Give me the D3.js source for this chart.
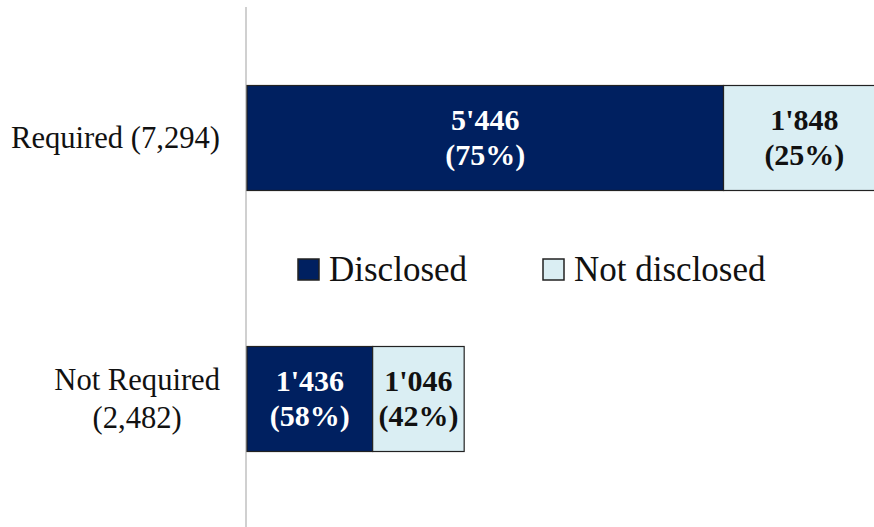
<!DOCTYPE html>
<html>
<head>
<meta charset="utf-8">
<script src="https://cdn.jsdelivr.net/npm/d3@7"></script>
<style>
  html, body { margin: 0; padding: 0; background: #fff; overflow: hidden; }
  svg { display: block; font-family: "Liberation Serif", "Times New Roman", serif; }
</style>
</head>
<body>
<div id="chart"></div>
<script>
const width = 874;
const height = 527;

// data
const categories = ["Required", "Not Required"];
const disclosed = [5446, 1436];
const notDisclosed = [1848, 1046];
const seriesNames = ["Disclosed", "Not disclosed"];
const seriesColors = ["#002060", "#DAEEF3"];
const labelColors = ["#ffffff", "#111111"];

const totals = categories.map((c, i) => disclosed[i] + notDisclosed[i]);

const svg = d3.select("#chart")
    .append("svg")
    .attr("width", width)
    .attr("height", height);

const x0 = 247;
const x = d3.scaleLinear()
    .domain([0, d3.max(totals)])
    .range([x0, x0 + d3.max(totals) * 0.0875]);

const y = d3.scalePoint()
    .domain(categories)
    .range([138, 399]);

const barH = 105;

const fmtNum = v => d3.format(",")(v).replace(/,/g, "'");

// vertical axis line
svg.append("line")
    .attr("x1", 246).attr("x2", 246)
    .attr("y1", 7).attr("y2", height)
    .attr("stroke", "#d0d0d0")
    .attr("stroke-width", 2);

// stacked segments
const segs = [];
categories.forEach((c, i) => {
    const vals = [disclosed[i], notDisclosed[i]];
    let start = 0;
    vals.forEach((v, s) => {
        segs.push({ cat: c, s: s, v: v, start: start, total: totals[i] });
        start += v;
    });
});

svg.selectAll("rect.seg")
    .data(segs)
    .join("rect")
    .attr("class", "seg")
    .attr("x", d => x(d.start))
    .attr("y", d => y(d.cat) - barH / 2)
    .attr("width", d => x(d.start + d.v) - x(d.start))
    .attr("height", barH)
    .attr("fill", d => seriesColors[d.s])
    .attr("stroke", "#222")
    .attr("stroke-width", 1.2);

const lbl = svg.selectAll("text.val")
    .data(segs)
    .join("text")
    .attr("class", "val")
    .attr("text-anchor", "middle")
    .attr("font-weight", "bold")
    .attr("font-size", 30)
    .attr("fill", d => labelColors[d.s]);

lbl.append("tspan")
    .attr("x", d => (x(d.start) + x(d.start + d.v)) / 2)
    .attr("y", d => y(d.cat) - 8)
    .text(d => fmtNum(d.v));

lbl.append("tspan")
    .attr("x", d => (x(d.start) + x(d.start + d.v)) / 2)
    .attr("y", d => y(d.cat) + 27)
    .text(d => "(" + Math.round(d.v / d.total * 100) + "%)");

// category labels
const catLines = [
    [categories[0] + " (" + d3.format(",")(totals[0]) + ")"],
    [categories[1], "(" + d3.format(",")(totals[1]) + ")"]
];

categories.forEach((c, i) => {
    const lines = catLines[i];
    const t = svg.append("text")
        .attr("font-size", 30.6)
        .attr("fill", "#111")
        .attr("text-anchor", "middle");
    const lh = 38;
    const first = y(c) + 10 - (lines.length - 1) * lh / 2;
    lines.forEach((ln, k) => {
        t.append("tspan").attr("x", 0).attr("y", first + k * lh).text(ln);
    });
    const w = t.node().getBBox().width;
    t.selectAll("tspan").attr("x", 220 - w / 2);
});

// legend
const legendX = [298, 543];
const legend = svg.selectAll("g.legend")
    .data(seriesNames)
    .join("g")
    .attr("class", "legend")
    .attr("transform", (d, i) => `translate(${legendX[i]},259)`);

legend.append("rect")
    .attr("width", 21)
    .attr("height", 21)
    .attr("fill", (d, i) => seriesColors[i])
    .attr("stroke", "#222")
    .attr("stroke-width", 1.5);

legend.append("text")
    .attr("x", 31)
    .attr("y", 22)
    .attr("font-size", 35)
    .attr("fill", "#111")
    .text(d => d);
</script>
</body>
</html>
